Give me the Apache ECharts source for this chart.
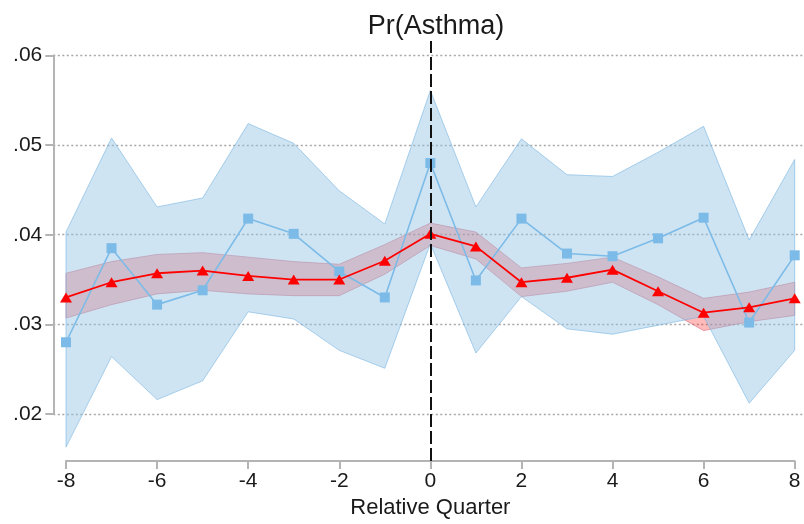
<!DOCTYPE html>
<html>
<head>
<meta charset="utf-8">
<script src="https://cdn.jsdelivr.net/npm/echarts@6/dist/echarts.min.js"></script>
<style>
html,body{margin:0;padding:0;background:#fff;}
#chart{width:804px;height:524px;}
</style>
</head>
<body>
<div id="chart"></div>
<script>
// ---- data ----
var quarters = [-8,-7,-6,-5,-4,-3,-2,-1,0,1,2,3,4,5,6,7,8];
var bluePoint = [0.0280,0.0385,0.0322,0.0338,0.0418,0.0401,0.0359,0.0330,0.0480,0.0349,0.0418,0.0379,0.0376,0.0396,0.0419,0.0302,0.0377];
var blueUpper = [0.0403,0.0508,0.0431,0.0441,0.0524,0.0502,0.0449,0.0412,0.0561,0.0431,0.0507,0.0467,0.0465,0.0492,0.0521,0.0394,0.0484];
var blueLower = [0.0163,0.0264,0.0216,0.0237,0.0314,0.0306,0.0271,0.0251,0.0390,0.0268,0.0331,0.0295,0.0289,0.0299,0.0309,0.0212,0.0271];
var redPoint  = [0.0330,0.0347,0.0357,0.0360,0.0354,0.0350,0.0350,0.0371,0.0401,0.0387,0.0347,0.0352,0.0361,0.0337,0.0313,0.0319,0.0329];
var redUpper  = [0.0357,0.0370,0.0378,0.0380,0.0375,0.0370,0.0367,0.0389,0.0413,0.0403,0.0363,0.0368,0.0375,0.0353,0.0329,0.0336,0.0347];
var redLower  = [0.0307,0.0322,0.0334,0.0338,0.0334,0.0332,0.0332,0.0356,0.0388,0.0373,0.0331,0.0337,0.0347,0.0322,0.0293,0.0303,0.0310];
var yTickValues = [0.02,0.03,0.04,0.05,0.06];
var yTickLabels = ['.02','.03','.04','.05','.06'];
var titleText = 'Pr(Asthma)';
var xAxisTitle = 'Relative Quarter';

function pairs(vals){ return quarters.map(function(q,i){ return [q, vals[i]]; }); }
function bandRows(lo, hi){ return quarters.map(function(q,i){ return [q, lo[i], hi[i]]; }); }

// band polygon drawn through the chart's own coordinate system
function bandRenderer(lo, hi, fill, stroke){
  return function(params, api){
    if (params.dataIndex !== 0) return null;
    var top = [], bottom = [];
    for (var i = 0; i < quarters.length; i++) {
      top.push(api.coord([quarters[i], hi[i]]));
      bottom.push(api.coord([quarters[i], lo[i]]));
    }
    var pts = top.concat(bottom.reverse());
    return {
      type: 'polygon',
      shape: {points: pts},
      style: {fill: fill, stroke: stroke, lineWidth: 1}
    };
  };
}

var FONT = '"Liberation Sans", Arial, sans-serif';
var chart = echarts.init(document.getElementById('chart'), null, {renderer:'canvas'});

var option = {
  animation: false,
  backgroundColor: '#ffffff',
  title: {
    text: titleText,
    left: 431,
    textAlign: 'center',
    top: 8,
    textStyle: {fontFamily: FONT, fontSize: 27, fontWeight: 'normal', color: '#1a1a1a'}
  },
  grid: [
    {left: 66, right: 9.3, top: 41, height: 420, containLabel: false},
    {left: 53.3, right: 0, top: 55.5, height: 358.5, containLabel: false}
  ],
  xAxis: [
    {
      type: 'value', gridIndex: 0, min: -8, max: 8, interval: 2,
      name: xAxisTitle, nameLocation: 'middle', nameGap: 34,
      nameTextStyle: {fontFamily: FONT, fontSize: 22, color: '#1a1a1a'},
      axisLine: {show: true, lineStyle: {color: '#b4b4b4', width: 2}},
      axisTick: {show: true, length: 8, inside: false, lineStyle: {color: '#b4b4b4', width: 2}},
      axisLabel: {fontFamily: FONT, fontSize: 21, color: '#1a1a1a', margin: 10},
      splitLine: {show: false}
    },
    {type: 'value', gridIndex: 1, min: 0, max: 1, show: false}
  ],
  yAxis: [
    {type: 'value', gridIndex: 0, min: 0.01475, max: 0.06162, show: false, splitLine: {show: false}},
    {
      type: 'value', gridIndex: 1, min: 0.02, max: 0.06, interval: 0.01,
      axisLine: {show: true, lineStyle: {color: '#b4b4b4', width: 2}},
      axisTick: {show: true, length: 8, inside: false, lineStyle: {color: '#b4b4b4', width: 2}},
      axisLabel: {
        fontFamily: FONT, fontSize: 21, color: '#1a1a1a', margin: 11,
        formatter: function(v){
          for (var i = 0; i < yTickValues.length; i++) {
            if (Math.abs(v - yTickValues[i]) < 1e-9) return yTickLabels[i];
          }
          return '';
        }
      },
      splitLine: {show: true, lineStyle: {color: '#a6a6a6', width: 1.3, type: [2, 2.5]}}
    }
  ],
  series: [
    {
      name: 'redBand', type: 'custom', xAxisIndex: 0, yAxisIndex: 0, z: 1, silent: true,
      data: bandRows(redLower, redUpper),
      encode: {x: 0, y: [1, 2]},
      renderItem: bandRenderer(redLower, redUpper, 'rgba(255,0,0,0.27)', 'rgba(215,100,120,0.6)')
    },
    {
      name: 'blueBand', type: 'custom', xAxisIndex: 0, yAxisIndex: 0, z: 2, silent: true,
      data: bandRows(blueLower, blueUpper),
      encode: {x: 0, y: [1, 2]},
      renderItem: bandRenderer(blueLower, blueUpper, 'rgba(148,196,229,0.46)', 'rgba(120,180,225,0.6)')
    },
    {
      name: 'blue', type: 'line', xAxisIndex: 0, yAxisIndex: 0,
      data: pairs(bluePoint), symbol: 'rect', symbolSize: 10, z: 3,
      lineStyle: {color: '#7cbbe7', width: 1.6},
      itemStyle: {color: '#7cbbe7'}
    },
    {
      name: 'red', type: 'line', xAxisIndex: 0, yAxisIndex: 0,
      data: pairs(redPoint), symbol: 'triangle', symbolSize: [12, 10], z: 4,
      lineStyle: {color: '#ff0000', width: 1.8},
      itemStyle: {color: '#ff0000'},
      markLine: {
        silent: true, symbol: 'none', label: {show: false},
        lineStyle: {color: '#111111', width: 2, type: [13, 4]},
        data: [{xAxis: 0}]
      }
    }
  ]
};
chart.setOption(option);
</script>
</body>
</html>
